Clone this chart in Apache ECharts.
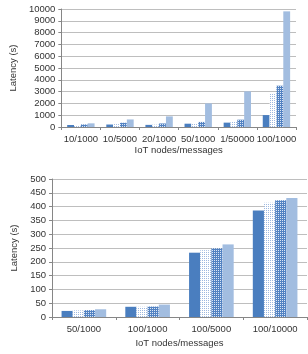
<!DOCTYPE html>
<html>
<head>
<meta charset="utf-8">
<style>
html, body { margin: 0; padding: 0; background: #fff; }
#chart { width: 308px; height: 354px; }
</style>
<script src="https://cdn.jsdelivr.net/npm/echarts@6/dist/echarts.min.js"></script>
</head>
<body>
<div id="chart"></div>
<script>
// top chart
var topCats = ['10/1000', '10/5000', '20/1000', '50/1000', '1/50000', '100/1000'];
var topA = [170, 210, 180, 280, 370, 1010];
var topB = [150, 250, 200, 320, 500, 2820];
var topC = [220, 360, 300, 430, 620, 3500];
var topD = [310, 640, 900, 2000, 3020, 9800];
// bottom chart
var botCats = ['50/1000', '100/1000', '100/5000', '100/10000'];
var botA = [22, 37, 233, 386];
var botB = [24, 37, 242, 414];
var botC = [25, 38, 249, 423];
var botD = [28, 45, 263, 431];

function makePattern(bg, dot) {
	var c = document.createElement('canvas');
	c.width = 2; c.height = 2;
	var ctx = c.getContext('2d');
	ctx.fillStyle = bg;
	ctx.fillRect(0, 0, 2, 2);
	ctx.fillStyle = dot;
	ctx.fillRect(0, 0, 1, 1);
	return { image: c, repeat: 'repeat' };
}

var solid = '#4a7ebf';
var light = '#a2bde0';
var dotted = makePattern('#ffffff', '#9db8e0');
var checker = makePattern('#5282c2', '#dbe6f5');

var font = 'Liberation Sans';
var txt = { color: '#333333', fontSize: 9.5, fontFamily: font };

function xAx(idx, cats, gap) {
	return {
		type: 'category', gridIndex: idx, data: cats,
		name: 'IoT nodes/messages', nameLocation: 'middle', nameGap: gap,
		nameTextStyle: txt,
		axisLine: { lineStyle: { color: '#868686' } },
		axisTick: { show: true, length: 3, lineStyle: { color: '#868686' } },
		axisLabel: Object.assign({ margin: 7, interval: 0 }, txt)
	};
}
function yAx(idx, max, step, gap) {
	return {
		type: 'value', gridIndex: idx, min: 0, max: max, interval: step,
		name: 'Latency (s)', nameLocation: 'middle', nameRotate: 90, nameGap: gap,
		nameTextStyle: txt,
		axisLine: { show: true, lineStyle: { color: '#868686' } },
		axisTick: { show: true, length: 3, lineStyle: { color: '#868686' } },
		axisLabel: Object.assign({ margin: 6, formatter: function(v) { return String(v); } }, txt),
		splitLine: { lineStyle: { color: '#bebebe' } }
	};
}
function bars(idx, data, color) {
	return {
		type: 'bar', xAxisIndex: idx, yAxisIndex: idx, data: data,
		barGap: '0%', barCategoryGap: '30%',
		itemStyle: { color: color }, silent: true
	};
}

var option = {
	animation: false,
	grid: [
		{ left: 48, right: 12, top: 9, height: 118 },
		{ left: 52, right: 1, top: 179, height: 138 }
	],
	xAxis: [xAx(0, topCats, 18), xAx(1, botCats, 21)],
	yAxis: [yAx(0, 10000, 1000, 37), yAx(1, 500, 50, 32)],
	series: [
		bars(0, topA, solid), bars(0, topB, dotted), bars(0, topC, checker), bars(0, topD, light),
		bars(1, botA, solid), bars(1, botB, dotted), bars(1, botC, checker), bars(1, botD, light)
	]
};
echarts.init(document.getElementById('chart')).setOption(option);
</script>
</body>
</html>
